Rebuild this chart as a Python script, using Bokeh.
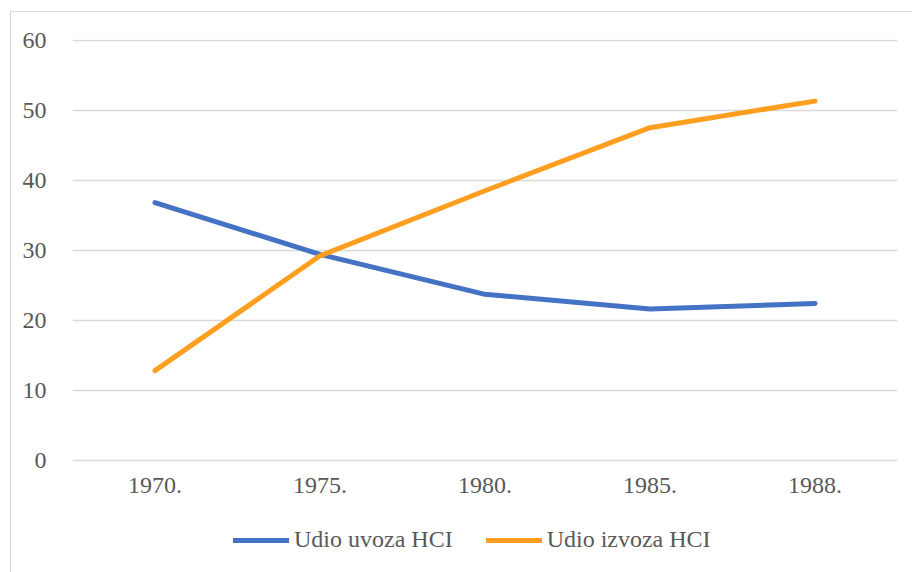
from bokeh.plotting import figure
from bokeh.models import FactorRange, Range1d, Legend, LegendItem
from bokeh.embed import file_html
from bokeh.resources import INLINE

years = ["1970.", "1975.", "1980.", "1985.", "1988."]
uvoz = [36.9, 29.5, 23.8, 21.7, 22.5]
izvoz = [12.9, 29.3, 38.6, 47.6, 51.4]
labels = ["Udio uvoza HCI", "Udio izvoza HCI"]
y_ticks = [0, 10, 20, 30, 40, 50, 60]

FONT = "'Liberation Serif', 'Times New Roman', serif"
TXT = "#595959"
BLUE = "#4472C4"
ORANGE = "#FF9E1F"

p = figure(width=912, height=572, x_range=FactorRange(*years, range_padding=0),
           y_range=Range1d(-15.94, 60.2), output_backend="svg", toolbar_location=None,
           min_border_left=72, min_border_right=15, min_border_top=39, min_border_bottom=0)
p.outline_line_color = None
p.background_fill_color = "white"
p.border_fill_color = None
p.styles = {"background": "linear-gradient(#d9d9d9,#d9d9d9) 10px 11px / 1px 100% no-repeat, "
                          "linear-gradient(#d9d9d9,#d9d9d9) 10px 11px / 100% 1px no-repeat, white"}

r1 = p.line(years, uvoz, line_color=BLUE, line_width=5, line_cap="round", line_join="round")
r2 = p.line(years, izvoz, line_color=ORANGE, line_width=5, line_cap="round", line_join="round")

p.yaxis.ticker = y_ticks
p.xaxis.fixed_location = 0
for ax in (p.xaxis[0], p.yaxis[0]):
    ax.axis_line_color = None
    ax.major_tick_line_color = None
    ax.minor_tick_line_color = None
    ax.major_label_text_font = FONT
    ax.major_label_text_font_size = "24px"
    ax.major_label_text_color = TXT
p.yaxis.major_label_standoff = 20
p.xaxis.major_label_standoff = 11
p.xgrid.grid_line_color = None
p.ygrid.grid_line_color = "#d9d9d9"
p.ygrid.grid_line_width = 1.5

legend = Legend(items=[LegendItem(label=labels[0], renderers=[r1]),
                       LegendItem(label=labels[1], renderers=[r2])],
                location=(161, 19), orientation="horizontal",
                padding=0, margin=0, spacing=33, glyph_width=56, glyph_height=20,
                label_standoff=5, border_line_color=None, background_fill_alpha=0,
                label_text_font=FONT, label_text_font_size="24px", label_text_color=TXT)
p.add_layout(legend, "center")

open("out.html", "w").write(file_html(p, INLINE))
